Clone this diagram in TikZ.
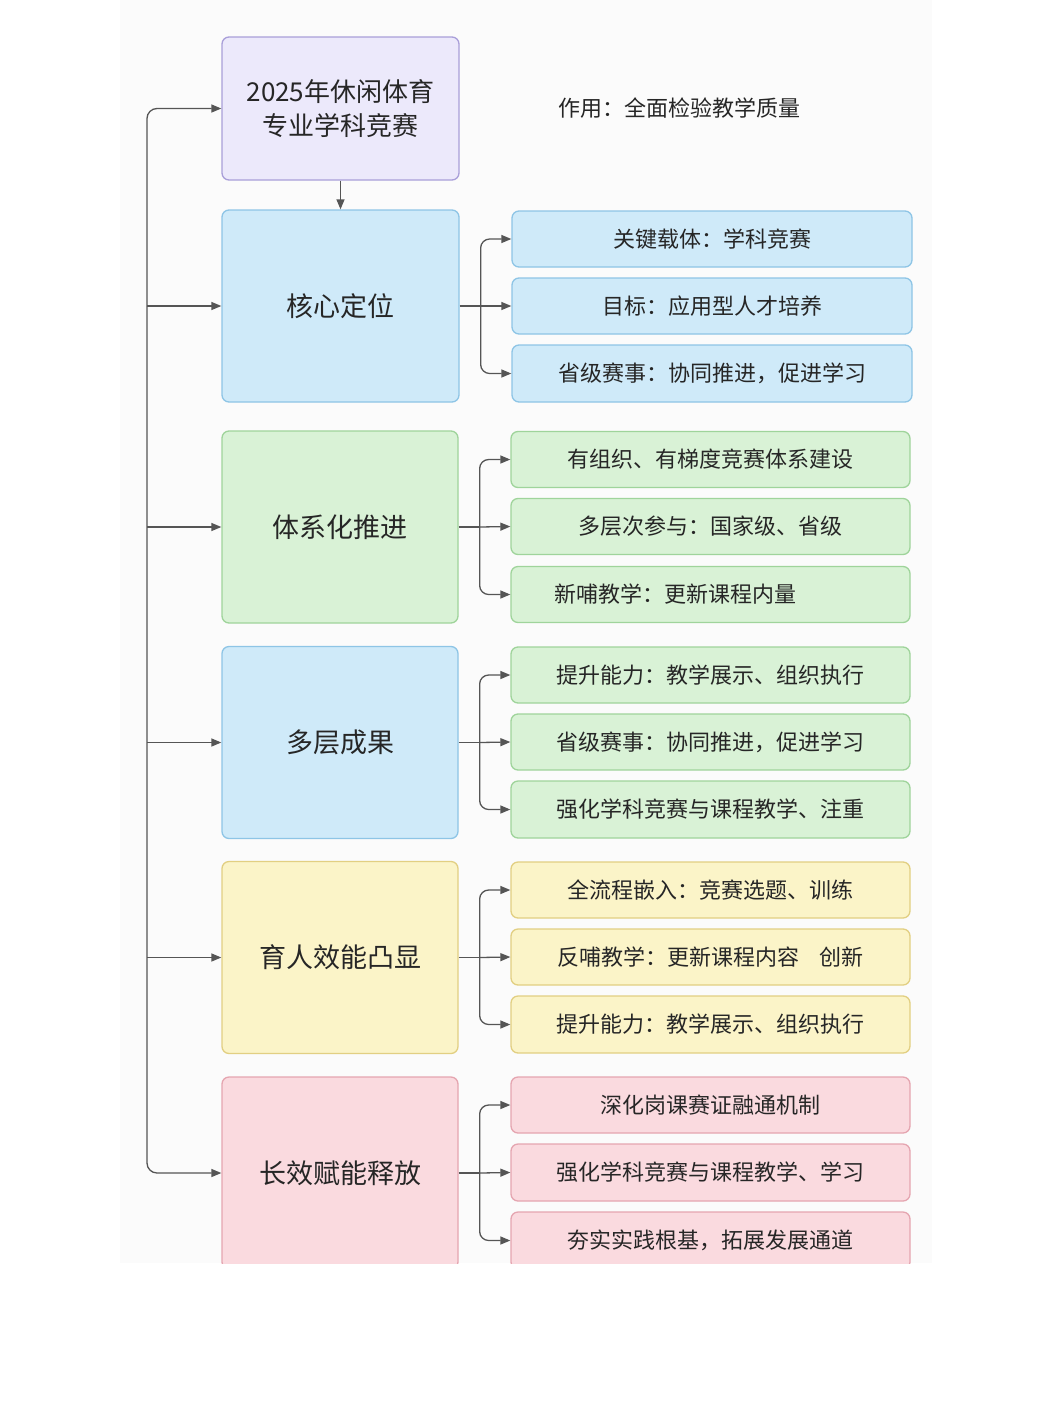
\documentclass[tikz,border=0pt]{standalone}
\usepackage{fontspec}
\newfontfamily\cjk{Noto Sans CJK SC}
\usetikzlibrary{arrows.meta,calc}
\definecolor{bgc}{HTML}{FBFBFB}
\definecolor{txt}{HTML}{262626}
\definecolor{lnc}{HTML}{555555}
\definecolor{pF}{HTML}{ECE9FB}\definecolor{pD}{HTML}{A99FD9}
\definecolor{bF}{HTML}{CFEAF9}\definecolor{bD}{HTML}{8EC5E6}
\definecolor{gF}{HTML}{D9F2D6}\definecolor{gD}{HTML}{9FD49B}
\definecolor{yF}{HTML}{FBF4C8}\definecolor{yD}{HTML}{E2CF82}
\definecolor{rF}{HTML}{FADADF}\definecolor{rD}{HTML}{E5A5B0}
\tikzset{
  box/.style 2 args={draw=#2, fill=#1, line width=1.3pt, rounded corners=7pt, inner sep=0pt, text=txt},
  mainbox/.style 2 args={box={#1}{#2}, minimum width=236pt, minimum height=192pt, font=\cjk\fontsize{27}{32}\selectfont},
  subbox/.style 2 args={box={#1}{#2}, minimum width=399pt, minimum height=56pt, font=\cjk\fontsize{22}{26}\selectfont},
  arr/.style={draw=lnc, line width=1.3pt, -{Triangle[length=10pt,width=8pt]}},
  conn/.style={draw=lnc, line width=1.3pt},
}
\begin{document}
\begin{tikzpicture}[x=1pt,y=-1pt]
\useasboundingbox (0,0) rectangle (1052,1403);
\fill[white] (0,0) rectangle (1052,1403);
\fill[bgc] (120,0) rectangle (932,1263);
\begin{scope}
\clip (0,0) rectangle (1052,1263);
% top
\node[box={pF}{pD}, minimum width=237pt, minimum height=143pt, align=center, font=\cjk\fontsize{26}{34}\selectfont] (top) at (340.5,108.5) {2025年休闲体育\\专业学科竞赛};
\node[text=txt, font=\cjk\fontsize{22}{26}\selectfont, inner sep=0pt] (role) at (679,108) {作用：全面检验教学质量};
% main boxes
\node[mainbox={bF}{bD}, minimum width=237pt] (m1) at (340.5,306) {核心定位};
\node[mainbox={gF}{gD}] (m2) at (340,527) {体系化推进};
\node[mainbox={bF}{bD}] (m3) at (340,742.5) {多层成果};
\node[mainbox={yF}{yD}] (m4) at (340,957.5) {育人效能凸显};
\node[mainbox={rF}{rD}] (m5) at (340,1173) {长效赋能释放};
% children
\node[subbox={bF}{bD}, minimum width=400pt] (c11) at (712,239) {关键载体：学科竞赛};
\node[subbox={bF}{bD}, minimum width=400pt] (c12) at (712,306) {目标：应用型人才培养};
\node[subbox={bF}{bD}, minimum width=400pt, minimum height=57pt] (c13) at (712,373.5) {省级赛事：协同推进，促进学习};
\node[subbox={gF}{gD}] (c21) at (710.5,459.5) {有组织、有梯度竞赛体系建设};
\node[subbox={gF}{gD}] (c22) at (710.5,526.5) {多层次参与：国家级、省级};
\node[subbox={gF}{gD}] (c23) at (710.5,594.5) {\hspace*{-70pt}新哺教学：更新课程内量};
\node[subbox={gF}{gD}] (c31) at (710.5,675) {提升能力：教学展示、组织执行};
\node[subbox={gF}{gD}] (c32) at (710.5,742) {省级赛事：协同推进，促进学习};
\node[subbox={gF}{gD}, minimum height=57pt] (c33) at (710.5,809.5) {强化学科竞赛与课程教学、注重};
\node[subbox={yF}{yD}] (c41) at (710.5,890) {全流程嵌入：竞赛选题、训练};
\node[subbox={yF}{yD}] (c42) at (710.5,957) {反哺教学：更新课程内容\hspace{0.9em}创新};
\node[subbox={yF}{yD}, minimum height=57pt] (c43) at (710.5,1024.5) {提升能力：教学展示、组织执行};
\node[subbox={rF}{rD}] (c51) at (710.5,1105) {深化岗课赛证融通机制};
\node[subbox={rF}{rD}, minimum height=57pt] (c52) at (710.5,1172.5) {强化学科竞赛与课程教学、学习};
\node[subbox={rF}{rD}, minimum height=57pt] (c53) at (710.5,1240.5) {夯实实践根基，拓展发展通道};
% top to m1
\draw[arr] (top.south) -- (m1.north);
% spine
\coordinate (sp) at (147,0);
\draw[arr, rounded corners=10pt] (sp |- m1.west) |- (top.west);
\draw[arr, rounded corners=10pt] (sp |- m1.west) |- (m5.west);
\foreach \m in {m1,m2,m3,m4}{\draw[arr] (sp |- \m.west) -- (\m.west);}
% forks
\foreach \m/\a/\b/\c in {m1/c11/c12/c13, m2/c21/c22/c23, m3/c31/c32/c33, m4/c41/c42/c43, m5/c51/c52/c53}{
  \coordinate (f) at ($(\m.east)+(21,0)$);
  \draw[conn] (\m.east) -- (f);
  \draw[arr, rounded corners=9pt] (f) |- (\a.west);
  \draw[arr, rounded corners=9pt] (f) |- (\c.west);
  \draw[arr] (f) -- (\b.west);
}
\end{scope}
\end{tikzpicture}
\end{document}
